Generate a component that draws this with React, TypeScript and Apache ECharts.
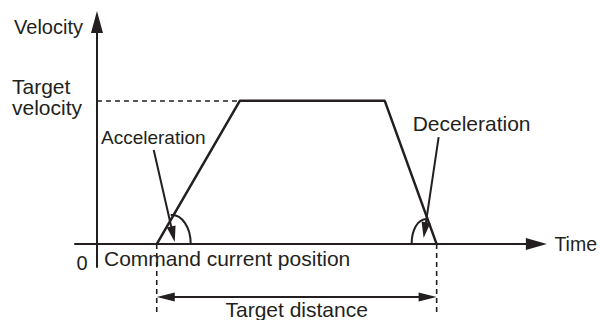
import React, { useEffect, useRef } from "react";
import * as echarts from "echarts";

// Trapezoidal velocity profile (time, velocity in relative units)
const profileTime = [1.36, 3.25, 6.55, 7.73];
const profileVelocity = [0, 1, 1, 0];
const targetVelocity = 1;
const xRange = [-0.5, 10];
const yRange = [-0.16, 1.55];

const axisNames = { x: "Time", y: "Velocity" };
const annotationTexts = {
  origin: "0",
  target: "Target\nvelocity",
  accel: "Acceleration",
  decel: "Deceleration",
  start: "Command current position",
  distance: "Target distance",
};

const INK = "#231f20";
const FONT = "'Liberation Sans', Arial, Helvetica, sans-serif";

type P = [number, number];

function head(tip: P, from: P, len: number, w: number): P[] {
  const dx = tip[0] - from[0];
  const dy = tip[1] - from[1];
  const d = Math.hypot(dx, dy) || 1;
  const ux = dx / d, uy = dy / d;
  const bx = tip[0] - ux * len, by = tip[1] - uy * len;
  const px = -uy * (w / 2), py = ux * (w / 2);
  return [tip, [bx + px, by + py], [bx - px, by - py]];
}

function txt(text: string, x: number, y: number, fontSize: number, align = "left", extra: any = {}) {
  return {
    type: "text",
    x,
    y,
    silent: true,
    style: {
      text,
      fill: INK,
      fontSize,
      fontFamily: FONT,
      align,
      verticalAlign: "middle",
      ...extra,
    },
  };
}

export default function App() {
  const ref = useRef<HTMLDivElement>(null);
  useEffect(() => {
    const chart = echarts.init(ref.current!, null, { renderer: "svg" });
    const axisCommon = {
      type: "value",
      axisTick: { show: false },
      axisLabel: { show: false },
      splitLine: { show: false },
      nameLocation: "end",
    };
    chart.setOption({
      animation: false,
      backgroundColor: "#ffffff",
      grid: { left: 75, right: 62.5, top: 22, bottom: 53 },
      xAxis: {
        ...axisCommon,
        min: xRange[0],
        max: xRange[1],
        name: axisNames.x,
        nameGap: 18,
        nameTextStyle: { color: INK, fontSize: 19.5, fontFamily: FONT, align: "left", verticalAlign: "middle" },
        axisLine: {
          onZero: true,
          lineStyle: { color: INK, width: 2 },
          symbol: ["none", "triangle"],
          symbolSize: [12, 21],
        },
      },
      yAxis: {
        ...axisCommon,
        min: yRange[0],
        max: yRange[1],
        name: axisNames.y,
        nameGap: -5,
        nameTextStyle: {
          color: INK,
          fontSize: 20,
          fontFamily: FONT,
          align: "right",
          verticalAlign: "middle",
          padding: [0, 14, 0, 0],
        },
        axisLine: {
          onZero: true,
          lineStyle: { color: INK, width: 2 },
          symbol: ["none", "triangle"],
          symbolSize: [12, 22],
        },
      },
      series: [
        {
          type: "line",
          name: "Velocity profile",
          data: profileTime.map((t, i) => [t, profileVelocity[i]]),
          symbol: "none",
          lineStyle: { color: INK, width: 2.5 },
          markLine: {
            silent: true,
            symbol: ["none", "none"],
            label: { show: false },
            lineStyle: { color: INK, type: [5, 4], width: 1.6 },
            data: [[{ coord: [0, targetVelocity] }, { coord: [profileTime[1], targetVelocity] }]],
          },
        },
      ],
    });

    const px = (v: number[]) => chart.convertToPixel({ gridIndex: 0 }, v) as P;
    const O = px([0, 0]);
    const pts = profileTime.map((t, i) => px([t, profileVelocity[i]]));
    const P0 = pts[0], P1 = pts[1], P3 = pts[3];

    const guideLen = 72;
    const distY = P0[1] + 53;

    const accFrom: P = [P0[0] - 3, P0[1] - 94];
    const accTip: P = [P0[0] + 18, P0[1] - 2];
    const decFrom: P = [P3[0] + 2, P3[1] - 107];
    const decTip: P = [P3[0] - 13, P3[1] - 6];

    const lineEl = (a: P, b: P, w: number, dash?: number[]) => ({
      type: "line",
      silent: true,
      shape: { x1: a[0], y1: a[1], x2: b[0], y2: b[1] },
      style: { stroke: INK, lineWidth: w, lineDash: dash },
    });
    const poly = (p: P[]) => ({ type: "polygon", silent: true, shape: { points: p }, style: { fill: INK } });
    const bez = (s: P, c1: P, c2: P, e: P) => ({
      type: "bezierCurve",
      silent: true,
      shape: { x1: s[0], y1: s[1], cpx1: c1[0], cpy1: c1[1], cpx2: c2[0], cpy2: c2[1], x2: e[0], y2: e[1] },
      style: { stroke: INK, lineWidth: 2, fill: "none" },
    });
    const rel = (b: P, dx: number, dy: number): P => [b[0] + dx, b[1] + dy];

    const dL: P = [P0[0], distY];
    const dR: P = [P3[0], distY];

    chart.setOption({
      graphic: [
        // vertical guides under the axis
        lineEl([P0[0], P0[1]], [P0[0], P0[1] + guideLen], 1.6, [5, 4]),
        lineEl([P3[0], P3[1]], [P3[0], P3[1] + guideLen], 1.6, [5, 4]),
        // target distance arrow
        lineEl(rel(dL, 10, 0), rel(dR, -10, 0), 2),
        poly(head(dL, dR, 18, 9)),
        poly(head(dR, dL, 18, 9)),
        // angle arcs
        bez(rel(P0, 14, -29), rel(P0, 25, -30), rel(P0, 34, -17), rel(P0, 34, 0)),
        bez(rel(P3, -25, 0), rel(P3, -25, -14), rel(P3, -19, -25), rel(P3, -10, -25)),
        // pointer arrows
        lineEl(accFrom, head(accTip, accFrom, 10, 0)[1], 2),
        poly(head(accTip, accFrom, 16, 9)),
        lineEl(decFrom, head(decTip, decFrom, 10, 0)[1], 2),
        poly(head(decTip, decFrom, 16, 9)),
        // texts
        txt(annotationTexts.origin, O[0] - 15, O[1] + 19, 20, "center"),
        txt(annotationTexts.target, O[0] - 85, P1[1] - 3.5, 21, "left", { lineHeight: 21 }),
        txt(annotationTexts.accel, O[0] + 4, P0[1] - 107, 19),
        txt(annotationTexts.decel, P3[0] - 24, P3[1] - 121, 21),
        txt(annotationTexts.start, O[0] + 7, O[1] + 14, 21),
        txt(annotationTexts.distance, (P0[0] + P3[0]) / 2, distY + 12, 21, "center"),
      ],
    });

    return () => chart.dispose();
  }, []);

  return (
    <div
      ref={ref}
      style={{ position: "fixed", left: 0, top: 0, width: 600, height: 320, background: "#fff" }}
    />
  );
}
